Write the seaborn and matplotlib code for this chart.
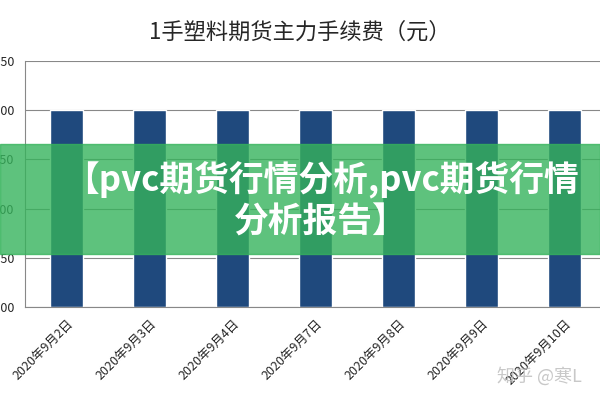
import matplotlib
matplotlib.use("Agg")
import matplotlib.pyplot as plt
import seaborn as sns
import pandas as pd

dates = ["2020年9月2日", "2020年9月3日", "2020年9月4日", "2020年9月7日",
         "2020年9月8日", "2020年9月9日", "2020年9月10日"]
fees = [2, 2, 2, 2, 2, 2, 2]
yticks = [0, 0.5, 1.0, 1.5, 2.0, 2.5]

sns.set_style("white")
plt.rcParams['font.family'] = ['Noto Sans CJK SC', 'DejaVu Sans']

df = pd.DataFrame({"date": dates, "fee": fees})
fig = plt.figure(figsize=(6, 4), dpi=100)
ax = fig.add_axes([25 / 600, 93 / 400, 581 / 600, 246 / 400])
sns.barplot(data=df, x="date", y="fee", color="#1f497d", width=0.4, saturation=1, ax=ax)
ax.set_ylim(0, 2.5)
ax.set_yticks(yticks)
ax.set_yticklabels([f"{v:.2f}" for v in yticks], fontsize=9)
ax.yaxis.grid(True, color="#888888", lw=0.8)
ax.set_axisbelow(True)
ax.set_xlim(-0.5, 6.5)
ax.set_xlabel("")
ax.set_ylabel("")
for s in ["top", "right"]:
    ax.spines[s].set_visible(False)
for s in ["left", "bottom"]:
    ax.spines[s].set_color("#888888")
ax.tick_params(axis="y", length=4, color="#888888")
ax.tick_params(axis="x", length=4, color="#888888")
plt.setp(ax.get_xticklabels(), rotation=45, ha="right", rotation_mode="anchor", fontsize=9)

fig.text(0.5, 0.92, "1手塑料期货主力手续费（元）", ha="center", va="center", fontsize=16, fontweight="medium")

# green banner overlay
fig.patches.append(plt.Rectangle((0, 146 / 400), 1, 110 / 400, transform=fig.transFigure,
                                 color="#36b35c", alpha=0.8, zorder=5))
fig.text(0.535, 0.5, "【pvc期货行情分析,pvc期货行情\n分析报告】", ha="center", va="center",
         fontsize=25, fontweight="bold", color="white", linespacing=1.25, zorder=6)
fig.text(0.97, 0.06, "知乎 @寒L", ha="right", va="center", fontsize=13, color="#bbbbbb", alpha=0.8)

fig.savefig("out.png", dpi=100)
